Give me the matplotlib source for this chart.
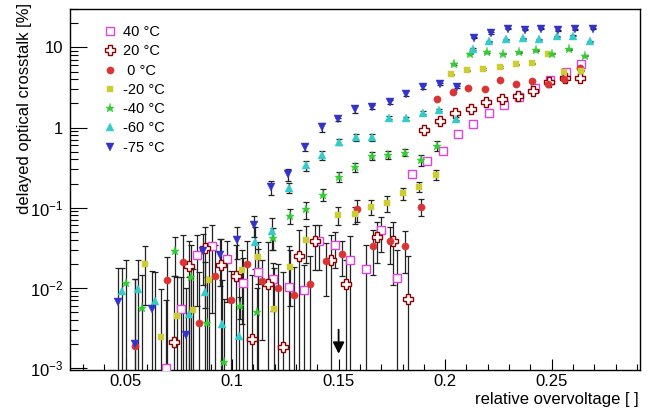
import numpy as np
import matplotlib
matplotlib.use('Agg')
import matplotlib.pyplot as plt
from matplotlib.ticker import FixedLocator, MultipleLocator, NullFormatter

plt.rcParams['font.family'] = ['Liberation Sans', 'DejaVu Sans']
plt.rcParams['mathtext.fontset'] = 'custom'
plt.rcParams['mathtext.rm'] = 'Liberation Sans'
plt.rcParams['mathtext.it'] = 'Liberation Sans:italic'

# data (relative overvoltage, crosstalk in %, error in %)
labels = ['40 °C', '20 °C', ' 0 °C', '-20 °C', '-40 °C', '-60 °C', '-75 °C']

x_40 = [0.0690, 0.0762, 0.0834, 0.0905, 0.0977, 0.1050, 0.1121, 0.1193, 0.1266, 0.1338,
        0.1410, 0.1483, 0.1555, 0.1628, 0.1701, 0.1773, 0.1844, 0.1916, 0.1989, 0.2060,
        0.2133, 0.2205, 0.2277, 0.2349, 0.2423, 0.2494, 0.2567, 0.2637]
y_40 = [0.0010, 0.0054, 0.0259, 0.0329, 0.0227, 0.0116, 0.0159, 0.0127, 0.0103, 0.0094,
        0.0387, 0.0337, 0.0222, 0.0173, 0.0522, 0.0132, 0.264, 0.381, 0.516, 0.830,
        1.12, 1.51, 1.91, 2.42, 3.11, 3.87, 4.87, 6.20]
e_40 = [0.006, 0.0083, 0.020, 0.028, 0.016, 0.012, 0.015, 0.0076, 0.023, 0.010,
        0.022, 0.016, 0.022, 0.017, 0.024, 0.0164, 0.02, 0.02, 0.03, 0.03,
        0.04, 0.04, 0.05, 0.05, 0.06, 0.06, 0.08, 0.1]

x_20 = [0.0728, 0.0800, 0.0873, 0.0947, 0.1020, 0.1094, 0.1167, 0.1241, 0.1315, 0.1390,
        0.1462, 0.1534, 0.1682, 0.1755, 0.1828, 0.1901, 0.1974, 0.2048, 0.2121, 0.2194,
        0.2268, 0.2343, 0.2415, 0.2488, 0.2562, 0.2635]
y_20 = [0.0021, 0.0187, 0.0316, 0.0192, 0.0139, 0.0023, 0.0110, 0.0018, 0.0251, 0.0387,
        0.0222, 0.0110, 0.0434, 0.0387, 0.0072, 0.923, 1.19, 1.53, 1.70, 2.08,
        2.27, 2.51, 2.90, 3.73, 4.10, 4.10]
e_20 = [0.012, 0.020, 0.026, 0.021, 0.020, 0.012, 0.026, 0.014, 0.028, 0.022,
        0.024, 0.011, 0.023, 0.028, 0.018, 0.03, 0.03, 0.03, 0.04, 0.04,
        0.05, 0.05, 0.05, 0.06, 0.06, 0.06]

x_0 = [0.0546, 0.0695, 0.0770, 0.0844, 0.0919, 0.0993, 0.1068, 0.1142, 0.1217, 0.1292,
       0.1366, 0.1440, 0.1515, 0.1587, 0.1663, 0.1742, 0.1814, 0.1886, 0.1961, 0.2036,
       0.2109, 0.2185, 0.2258, 0.2333, 0.2409, 0.2484, 0.2559, 0.2631]
y_0 = [0.0019, 0.0125, 0.0210, 0.0036, 0.0141, 0.0071, 0.0196, 0.0122, 0.0100, 0.0081,
       0.0110, 0.0218, 0.0262, 0.0958, 0.0335, 0.0387, 0.0335, 0.103, 2.30, 2.74,
       3.12, 3.07, 3.87, 3.49, 3.84, 3.52, 4.06, 5.53]
e_0 = [0.011, 0.012, 0.025, 0.012, 0.020, 0.009, 0.019, 0.010, 0.010, 0.010,
       0.014, 0.014, 0.012, 0.029, 0.019, 0.019, 0.018, 0.024, 0.05, 0.05,
       0.05, 0.05, 0.06, 0.06, 0.06, 0.06, 0.06, 0.08]

x_m20 = [0.0592, 0.0667, 0.0743, 0.0818, 0.0893, 0.1046, 0.1122, 0.1197, 0.1272, 0.1349,
         0.1499, 0.1575, 0.1651, 0.1726, 0.1801, 0.1878, 0.1955, 0.2030, 0.2105, 0.2180,
         0.2257, 0.2332, 0.2407, 0.2484, 0.2560, 0.2636]
y_m20 = [0.0196, 0.0024, 0.0044, 0.0053, 0.0126, 0.0165, 0.0242, 0.0055, 0.0179, 0.0395,
         0.0818, 0.0827, 0.103, 0.114, 0.151, 0.183, 0.256, 4.60, 5.16, 5.37,
         5.69, 6.13, 6.31, 8.18, 4.97, 5.11]
e_m20 = [0.0135, 0.0073, 0.0093, 0.012, 0.017, 0.013, 0.013, 0.012, 0.012, 0.019,
         0.021, 0.020, 0.022, 0.027, 0.027, 0.028, 0.035, 0.1, 0.1, 0.1,
         0.1, 0.1, 0.1, 0.1, 0.1, 0.1]

x_m40 = [0.0501, 0.0578, 0.0732, 0.0806, 0.0883, 0.0961, 0.1039, 0.1116, 0.1193, 0.1270,
         0.1348, 0.1426, 0.1502, 0.1579, 0.1657, 0.1734, 0.1810, 0.1887, 0.1964, 0.2042,
         0.2119, 0.2196, 0.2272, 0.2349, 0.2427, 0.2504, 0.2581, 0.2657]
y_m40 = [0.0115, 0.0056, 0.0288, 0.0136, 0.0036, 0.0012, 0.0059, 0.0050, 0.0422, 0.0788,
         0.0955, 0.145, 0.243, 0.320, 0.443, 0.456, 0.486, 0.393, 0.594, 6.25,
         8.34, 8.76, 8.34, 8.66, 9.17, 8.34, 9.55, 7.87]
e_m40 = [0.011, 0.009, 0.0146, 0.021, 0.010, 0.006, 0.0018, 0.005, 0.013, 0.017,
         0.023, 0.025, 0.035, 0.045, 0.05, 0.05, 0.05, 0.06, 0.08, 0.15,
         0.15, 0.15, 0.15, 0.15, 0.15, 0.15, 0.15, 0.15]

x_m60 = [0.0481, 0.0560, 0.0639, 0.0796, 0.0875, 0.0953, 0.1032, 0.1109, 0.1188, 0.1265,
         0.1345, 0.1424, 0.1502, 0.1580, 0.1659, 0.1738, 0.1816, 0.1895, 0.1973, 0.2052,
         0.2130, 0.2208, 0.2286, 0.2365, 0.2443, 0.2523, 0.2601, 0.2678]
y_m60 = [0.0090, 0.0096, 0.0068, 0.0047, 0.0088, 0.0035, 0.0025, 0.0369, 0.0514, 0.177,
         0.337, 0.453, 0.667, 0.754, 0.754, 1.33, 1.30, 1.54, 1.66, 1.29,
         9.55, 11.9, 12.7, 13.0, 12.7, 13.7, 13.9, 12.0]
e_m60 = [0.0085, 0.0126, 0.0088, 0.009, 0.012, 0.009, 0.010, 0.020, 0.022, 0.025,
         0.05, 0.06, 0.06, 0.07, 0.07, 0.05, 0.05, 0.05, 0.05, 0.05,
         0.2, 0.2, 0.2, 0.2, 0.2, 0.2, 0.2, 0.2]

x_m75 = [0.0466, 0.0545, 0.0624, 0.0784, 0.0862, 0.0941, 0.1022, 0.1102, 0.1182, 0.1262,
         0.1343, 0.1420, 0.1499, 0.1579, 0.1659, 0.1739, 0.1818, 0.1897, 0.1977, 0.2056,
         0.2136, 0.2216, 0.2294, 0.2374, 0.2452, 0.2532, 0.2612, 0.2692]
y_m75 = [0.0066, 0.0020, 0.0055, 0.0026, 0.0288, 0.0254, 0.040, 0.061, 0.179, 0.262,
         0.569, 1.01, 1.27, 1.69, 1.79, 2.08, 2.66, 3.20, 3.47, 3.18,
         13.3, 15.1, 17.1, 16.6, 17.1, 16.3, 16.8, 17.1]
e_m75 = [0.011, 0.011, 0.0106, 0.0072, 0.018, 0.015, 0.017, 0.018, 0.037, 0.045,
         0.055, 0.13, 0.06, 0.15, 0.1, 0.1, 0.2, 0.15, 0.1, 0.1,
         0.3, 0.3, 0.3, 0.3, 0.3, 0.3, 0.3, 0.3]

xs = [x_40, x_20, x_0, x_m20, x_m40, x_m60, x_m75]
ys = [y_40, y_20, y_0, y_m20, y_m40, y_m60, y_m75]
es = [e_40, e_20, e_0, e_m20, e_m40, e_m60, e_m75]

markers = ['s', 'P', 'o', 's', '*', '^', 'v']
sizes = [5.2, 7.2, 5.2, 4.6, 6.5, 5.4, 5.4]
faces = ['white', 'white', '#d93333', '#cccc33', '#33cc33', '#33cccc', '#3333cc']
edges = ['#dd44dd', '#8b0000', '#d93333', '#cccc33', '#33cc33', '#33cccc', '#3333cc']
edge_w = [1.0, 1.0, 0.3, 0.3, 0.3, 0.3, 0.3]

fig = plt.figure(figsize=(6.51, 4.12), dpi=100)
ax = fig.add_axes([70/651, 1-370/412, 570/651, 361/412])
ax.set_yscale('log')

for i in range(len(labels)):
    ax.errorbar(xs[i], ys[i], yerr=es[i], fmt='none', ecolor='#222222',
                elinewidth=0.9, capsize=1.9, capthick=0.9, zorder=2)

handles = []
for i in range(len(labels)):
    h, = ax.plot(xs[i], ys[i], ls='none', marker=markers[i], ms=sizes[i],
                 mfc=faces[i], mec=edges[i], mew=edge_w[i], zorder=3, label=labels[i])
    handles.append(h)

# arrow marking 0.15
ax.annotate('', xy=(0.15, 0.00150), xytext=(0.15, 0.0030),
            arrowprops=dict(arrowstyle='-|>', color='black', lw=1.3,
                            mutation_scale=17, shrinkA=0, shrinkB=0))

ax.set_xlim(0.0239, 0.2915)
ax.set_ylim(0.00094, 30.2)

ax.set_xticks([0.05, 0.1, 0.15, 0.2, 0.25])
ax.set_xticklabels(['0.05', '0.1', '0.15', '0.2', '0.25'])
ax.xaxis.set_minor_locator(MultipleLocator(0.01))

ax.set_yticks([1e-3, 1e-2, 1e-1, 1, 10])
ax.set_yticklabels(['$10^{-3}$', '$10^{-2}$', '$10^{-1}$', '1', '10'])
minor = [m * 10.0**d for d in range(-3, 2) for m in range(2, 10)]
ax.yaxis.set_minor_locator(FixedLocator(minor))
ax.yaxis.set_minor_formatter(NullFormatter())

ax.tick_params(axis='both', which='both', direction='in', top=False, right=False,
               width=0.8, labelsize=12, colors='black')
ax.tick_params(axis='y', which='major', length=12, pad=5)
ax.tick_params(axis='y', which='minor', length=6)
ax.tick_params(axis='x', which='major', length=8, pad=3)
ax.tick_params(axis='x', which='minor', length=4)
for s in ax.spines.values():
    s.set_linewidth(1.0)

fig.text(29/651, 1-3/412, 'delayed optical crosstalk [%]', rotation=90,
         rotation_mode='anchor', ha='right', va='baseline', fontsize=12)
fig.text(639/651, 1-404/412, 'relative overvoltage [ ]', ha='right', va='baseline',
         fontsize=12)

ax.legend(handles=handles, loc='upper left', bbox_to_anchor=(0.058, 0.955),
          frameon=False, fontsize=10.5, handlelength=1.0, handletextpad=0.4,
          labelspacing=0.36, borderpad=0, borderaxespad=0)

fig.savefig('out.png', dpi=100)
